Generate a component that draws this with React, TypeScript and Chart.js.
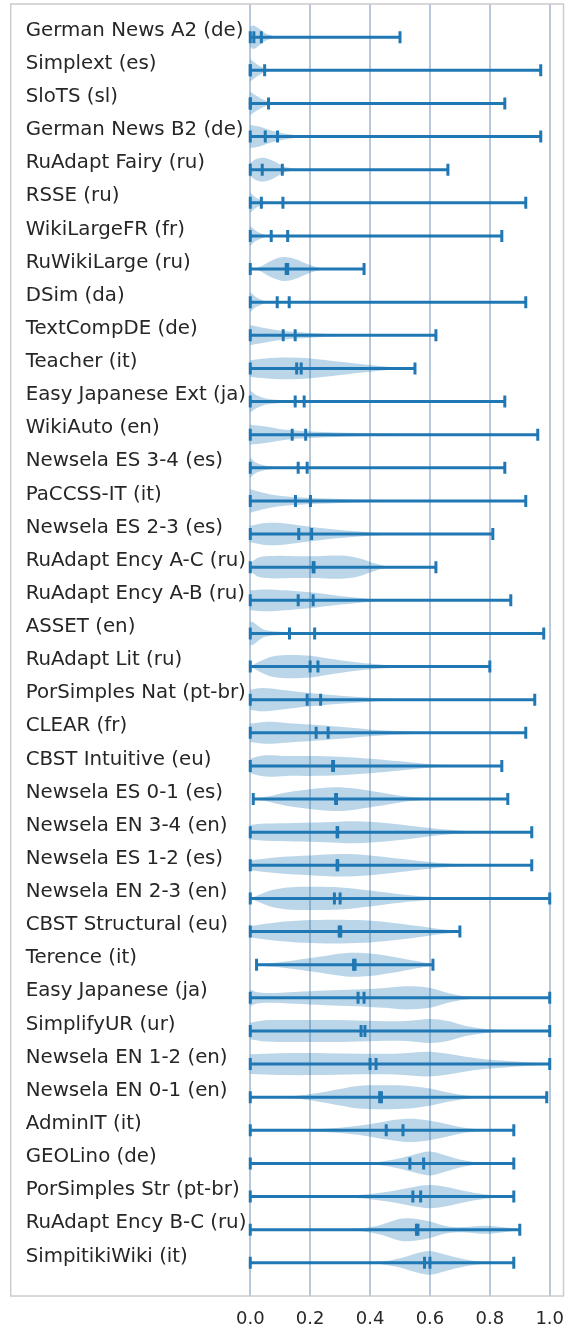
import React, { useEffect, useRef } from "react";
import { Chart, registerables } from "chart.js";

Chart.register(...registerables);

const categories = [
  "German News A2 (de)", "Simplext (es)", "SloTS (sl)", "German News B2 (de)",
  "RuAdapt Fairy (ru)", "RSSE (ru)", "WikiLargeFR (fr)", "RuWikiLarge (ru)",
  "DSim (da)", "TextCompDE (de)", "Teacher (it)", "Easy Japanese Ext (ja)",
  "WikiAuto (en)", "Newsela ES 3-4 (es)", "PaCCSS-IT (it)", "Newsela ES 2-3 (es)",
  "RuAdapt Ency A-C (ru)", "RuAdapt Ency A-B (ru)", "ASSET (en)", "RuAdapt Lit (ru)",
  "PorSimples Nat (pt-br)", "CLEAR (fr)", "CBST Intuitive (eu)", "Newsela ES 0-1 (es)",
  "Newsela EN 3-4 (en)", "Newsela ES 1-2 (es)", "Newsela EN 2-3 (en)", "CBST Structural (eu)",
  "Terence (it)", "Easy Japanese (ja)", "SimplifyUR (ur)", "Newsela EN 1-2 (en)",
  "Newsela EN 0-1 (en)", "AdminIT (it)", "GEOLino (de)", "PorSimples Str (pt-br)",
  "RuAdapt Ency B-C (ru)", "SimpitikiWiki (it)",
];

const minValues = [
  0, 0, 0, 0, 0, 0, 0, 0, 0, 0, 0, 0, 0, 0, 0, 0, 0, 0, 0, 0,
  0, 0, 0, 0.01, 0, 0, 0, 0, 0.021, 0, 0, 0, 0, 0, 0, 0, 0, 0,
];

const maxValues = [
  0.5, 0.97, 0.85, 0.97, 0.66, 0.92, 0.84, 0.38, 0.92, 0.62,
  0.55, 0.85, 0.96, 0.85, 0.92, 0.81, 0.62, 0.87, 0.98, 0.8,
  0.95, 0.92, 0.84, 0.86, 0.94, 0.94, 1.0, 0.7, 0.61, 1.0,
  1.0, 1.0, 0.99, 0.88, 0.88, 0.88, 0.9, 0.88,
];

const medianValues = [
  0.012, 0.0, 0.0, 0.05, 0.04, 0.037, 0.07, 0.12, 0.09, 0.11,
  0.155, 0.15, 0.14, 0.16, 0.151, 0.162, 0.21, 0.16, 0.131, 0.2,
  0.19, 0.22, 0.275, 0.285, 0.29, 0.29, 0.281, 0.297, 0.345, 0.36,
  0.37, 0.4, 0.432, 0.454, 0.533, 0.543, 0.555, 0.582,
];

const meanValues = [
  0.037, 0.048, 0.061, 0.091, 0.107, 0.109, 0.125, 0.125, 0.13, 0.15,
  0.17, 0.18, 0.185, 0.19, 0.201, 0.205, 0.213, 0.21, 0.215, 0.226,
  0.235, 0.26, 0.278, 0.288, 0.292, 0.292, 0.3, 0.302, 0.35, 0.38,
  0.383, 0.42, 0.438, 0.51, 0.579, 0.569, 0.56, 0.6,
];

// violin outline: [value, half-width in row units]
const violinProfiles: number[][][] = [
  [[0, 0.3], [0.01, 0.36], [0.03, 0.25], [0.05, 0.12], [0.08, 0.03], [0.12, 0]],
  [[0, 0.34], [0.02, 0.2], [0.05, 0.05], [0.08, 0]],
  [[0, 0.35], [0.03, 0.18], [0.06, 0.06], [0.1, 0]],
  [[0, 0.35], [0.03, 0.3], [0.07, 0.18], [0.12, 0.08], [0.18, 0.02], [0.22, 0]],
  [[0, 0.2], [0.02, 0.32], [0.045, 0.36], [0.08, 0.25], [0.11, 0.1], [0.15, 0.02], [0.18, 0]],
  [[0, 0.3], [0.02, 0.15], [0.05, 0.03], [0.08, 0]],
  [[0, 0.3], [0.02, 0.15], [0.05, 0.03], [0.08, 0]],
  [[0, 0], [0.03, 0.05], [0.07, 0.25], [0.11, 0.36], [0.15, 0.3], [0.19, 0.15], [0.23, 0.04], [0.27, 0]],
  [[0, 0.3], [0.02, 0.15], [0.05, 0.03], [0.08, 0]],
  [[0, 0.3], [0.03, 0.25], [0.08, 0.17], [0.15, 0.1], [0.25, 0.05], [0.35, 0.01], [0.4, 0]],
  [[0, 0.25], [0.05, 0.3], [0.12, 0.33], [0.2, 0.3], [0.3, 0.2], [0.4, 0.1], [0.5, 0.02], [0.55, 0]],
  [[0, 0.33], [0.02, 0.2], [0.06, 0.08], [0.15, 0.04], [0.3, 0.01], [0.35, 0]],
  [[0, 0.3], [0.05, 0.25], [0.12, 0.15], [0.25, 0.08], [0.4, 0.04], [0.6, 0.01], [0.65, 0]],
  [[0, 0.3], [0.02, 0.15], [0.06, 0.05], [0.12, 0.02], [0.2, 0]],
  [[0, 0.36], [0.03, 0.28], [0.08, 0.18], [0.15, 0.12], [0.3, 0.06], [0.5, 0.02], [0.6, 0]],
  [[0, 0.25], [0.05, 0.33], [0.1, 0.33], [0.2, 0.22], [0.3, 0.12], [0.4, 0.05], [0.5, 0.01], [0.55, 0]],
  [[0, 0.12], [0.03, 0.3], [0.08, 0.34], [0.15, 0.33], [0.22, 0.33], [0.3, 0.35], [0.36, 0.28], [0.42, 0.1], [0.46, 0.02], [0.5, 0]],
  [[0, 0.3], [0.05, 0.33], [0.12, 0.3], [0.2, 0.24], [0.3, 0.13], [0.4, 0.04], [0.45, 0]],
  [[0, 0.35], [0.01, 0.34], [0.03, 0.2], [0.05, 0.1], [0.1, 0.05], [0.2, 0.02], [0.3, 0]],
  [[0, 0], [0.03, 0.15], [0.07, 0.3], [0.12, 0.35], [0.2, 0.33], [0.28, 0.22], [0.36, 0.12], [0.45, 0.05], [0.55, 0.01], [0.6, 0]],
  [[0, 0.3], [0.04, 0.35], [0.1, 0.3], [0.2, 0.2], [0.3, 0.12], [0.4, 0.06], [0.5, 0.02], [0.6, 0]],
  [[0, 0.28], [0.05, 0.33], [0.12, 0.3], [0.2, 0.25], [0.3, 0.18], [0.4, 0.1], [0.5, 0.05], [0.6, 0.01], [0.65, 0]],
  [[0, 0.22], [0.05, 0.32], [0.12, 0.3], [0.2, 0.3], [0.3, 0.28], [0.4, 0.22], [0.5, 0.14], [0.6, 0.05], [0.7, 0.01], [0.75, 0]],
  [[0.01, 0], [0.05, 0.06], [0.12, 0.2], [0.2, 0.3], [0.28, 0.36], [0.35, 0.32], [0.42, 0.22], [0.5, 0.1], [0.58, 0.03], [0.65, 0]],
  [[0, 0.22], [0.05, 0.26], [0.15, 0.28], [0.25, 0.3], [0.35, 0.33], [0.45, 0.28], [0.55, 0.18], [0.65, 0.08], [0.75, 0.02], [0.8, 0]],
  [[0, 0.15], [0.1, 0.25], [0.2, 0.3], [0.3, 0.34], [0.4, 0.3], [0.5, 0.2], [0.6, 0.1], [0.7, 0.03], [0.8, 0]],
  [[0, 0], [0.04, 0.15], [0.08, 0.27], [0.14, 0.34], [0.22, 0.35], [0.3, 0.33], [0.4, 0.24], [0.5, 0.13], [0.6, 0.05], [0.7, 0.01], [0.75, 0]],
  [[0, 0.17], [0.08, 0.27], [0.18, 0.34], [0.28, 0.36], [0.38, 0.34], [0.47, 0.27], [0.56, 0.17], [0.64, 0.07], [0.7, 0.02]],
  [[0.02, 0.02], [0.08, 0.06], [0.14, 0.12], [0.2, 0.2], [0.26, 0.28], [0.33, 0.36], [0.4, 0.34], [0.47, 0.25], [0.53, 0.15], [0.58, 0.07], [0.61, 0.03]],
  [[0, 0.25], [0.02, 0.18], [0.06, 0.15], [0.15, 0.18], [0.25, 0.22], [0.35, 0.25], [0.45, 0.3], [0.52, 0.35], [0.6, 0.3], [0.66, 0.15], [0.72, 0.05], [0.8, 0.01], [0.85, 0]],
  [[0, 0.25], [0.05, 0.32], [0.15, 0.33], [0.3, 0.33], [0.42, 0.3], [0.52, 0.3], [0.6, 0.36], [0.66, 0.3], [0.72, 0.15], [0.8, 0.05], [0.9, 0.01], [1.0, 0]],
  [[0, 0.3], [0.1, 0.33], [0.25, 0.33], [0.4, 0.31], [0.5, 0.32], [0.6, 0.37], [0.68, 0.28], [0.76, 0.17], [0.85, 0.1], [0.93, 0.05], [1.0, 0.01]],
  [[0.1, 0], [0.15, 0.04], [0.22, 0.12], [0.3, 0.25], [0.36, 0.34], [0.45, 0.36], [0.53, 0.34], [0.6, 0.26], [0.66, 0.14], [0.72, 0.05], [0.78, 0.01], [0.8, 0]],
  [[0.15, 0], [0.2, 0.03], [0.3, 0.08], [0.38, 0.16], [0.45, 0.27], [0.52, 0.35], [0.58, 0.32], [0.64, 0.22], [0.7, 0.1], [0.76, 0.03], [0.8, 0]],
  [[0.35, 0], [0.42, 0.04], [0.48, 0.12], [0.54, 0.25], [0.6, 0.36], [0.65, 0.25], [0.7, 0.12], [0.75, 0.04], [0.8, 0]],
  [[0.25, 0], [0.32, 0.03], [0.4, 0.08], [0.48, 0.18], [0.55, 0.3], [0.6, 0.35], [0.66, 0.28], [0.72, 0.16], [0.78, 0.07], [0.84, 0.02], [0.88, 0]],
  [[0.3, 0], [0.38, 0.05], [0.44, 0.16], [0.5, 0.33], [0.54, 0.34], [0.6, 0.25], [0.66, 0.1], [0.72, 0.08], [0.78, 0.12], [0.84, 0.08], [0.9, 0.01]],
  [[0.38, 0], [0.44, 0.04], [0.5, 0.14], [0.56, 0.3], [0.6, 0.36], [0.65, 0.25], [0.7, 0.14], [0.76, 0.05], [0.82, 0.01], [0.85, 0]],
];

const xTicks = [0, 0.2, 0.4, 0.6, 0.8, 1.0];

const BLUE = "#1f77b4";
const VIOLIN_FILL = "rgba(31,119,180,0.3)";
const GRID = "rgba(110,145,180,0.5)";
const TEXT = "#262626";
const FONT = "'DejaVu Sans', sans-serif";

const framePlugin = {
  id: "frame",
  afterDraw(chart: any) {
    const { ctx, chartArea } = chart;
    ctx.save();
    ctx.strokeStyle = "#cccccc";
    ctx.lineWidth = 1.5;
    ctx.strokeRect(chartArea.left, chartArea.top, chartArea.right - chartArea.left, chartArea.bottom - chartArea.top);
    ctx.restore();
  },
};

const zeroPad = (s: any) => {
  s.paddingTop = 0;
  s.paddingBottom = 0;
  s.paddingLeft = 0;
  s.paddingRight = 0;
};

export default function App() {
  const ref = useRef<HTMLCanvasElement>(null);

  useEffect(() => {
    if (!ref.current) return;
    const datasets: any[] = [];

    violinProfiles.forEach((prof, i) => {
      const row = i + 1;
      const top = prof.map(([x, w]) => ({ x, y: row - w }));
      const bottom = prof.slice().reverse().map(([x, w]) => ({ x, y: row + w }));
      datasets.push({
        data: [...top, ...bottom],
        showLine: true,
        fill: "shape",
        backgroundColor: VIOLIN_FILL,
        borderColor: "rgba(0,0,0,0)",
        borderWidth: 0,
        pointRadius: 0,
        pointHoverRadius: 0,
        tension: 0.35,
        order: 3,
      });
    });

    categories.forEach((_, i) => {
      const row = i + 1;
      datasets.push({
        data: [
          { x: minValues[i], y: row },
          { x: maxValues[i], y: row },
        ],
        showLine: true,
        borderColor: BLUE,
        borderWidth: 3,
        pointStyle: "line",
        rotation: 90,
        pointRadius: 6,
        pointHoverRadius: 6,
        pointBorderWidth: 3,
        pointBorderColor: BLUE,
        order: 2,
      });
    });

    const markers: any[] = [];
    categories.forEach((_, i) => {
      markers.push({ x: medianValues[i], y: i + 1 });
      markers.push({ x: meanValues[i], y: i + 1 });
    });
    datasets.push({
      data: markers,
      showLine: false,
      pointStyle: "line",
      rotation: 90,
      pointRadius: 6,
      pointHoverRadius: 6,
      pointBorderWidth: 3,
      pointBorderColor: BLUE,
      order: 1,
    });

    const chart = new Chart(ref.current, {
      type: "scatter",
      data: { datasets },
      options: {
        animation: false,
        responsive: false,
        events: [],
        layout: { autoPadding: false, padding: { left: 10.7, right: 4.5, top: 4, bottom: 0 } },
        plugins: { legend: { display: false }, tooltip: { enabled: false } },
        scales: {
          x: {
            type: "linear",
            min: -0.8,
            max: 1.046,
            afterBuildTicks: (s: any) => {
              s.ticks = xTicks.map((v) => ({ value: v }));
            },
            afterFit: (s: any) => {
              s.height = 33;
              zeroPad(s);
            },
            ticks: {
              autoSkip: false,
              maxRotation: 0,
              padding: 12.5,
              color: TEXT,
              font: { family: FONT, size: 18 },
              callback: (v: any) => Number(v).toFixed(1),
            },
            grid: { color: GRID, lineWidth: 2, drawTicks: false },
            border: { display: false },
          },
          y: {
            type: "linear",
            min: 0,
            max: 39,
            reverse: true,
            afterBuildTicks: (s: any) => {
              s.ticks = categories.map((_, i) => ({ value: i + 1 }));
            },
            afterFit: (s: any) => {
              s.width = 0;
              zeroPad(s);
            },
            ticks: {
              mirror: true,
              autoSkip: false,
              padding: 15,
              labelOffset: -6.5,
              color: TEXT,
              font: { family: FONT, size: 19.8 },
              callback: (_v: any, idx: number) => categories[idx],
            },
            grid: { display: false },
            border: { display: false },
          },
        },
      },
      plugins: [framePlugin],
    });

    return () => chart.destroy();
  }, []);

  return (
    <div style={{ position: "absolute", left: 0, top: 0, width: 568, height: 1329, background: "#fff" }}>
      <canvas ref={ref} width={568} height={1329} style={{ display: "block", width: 568, height: 1329 }} />
    </div>
  );
}
